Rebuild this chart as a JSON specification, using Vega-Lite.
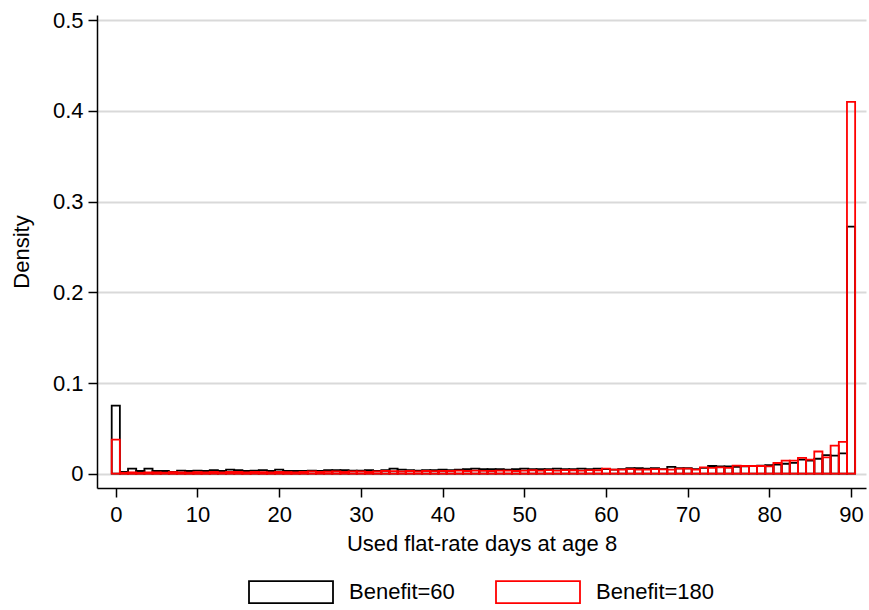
{
  "$schema": "https://vega.github.io/schema/vega-lite/v6.json",
  "description": "Histogram of used flat-rate days at age 8, Benefit=60 vs Benefit=180",
  "width": 769,
  "height": 473,
  "autosize": {"type": "none"},
  "padding": {"left": 97, "top": 15, "right": 3, "bottom": 122},
  "background": "white",
  "config": {
    "view": {"stroke": null},
    "font": "Liberation Sans",
    "axis": {
      "domainColor": "black",
      "domainWidth": 1.5,
      "tickColor": "black",
      "tickWidth": 1.5,
      "tickSize": 9,
      "labelFont": "Liberation Sans",
      "labelFontSize": 22,
      "labelColor": "black",
      "titleFont": "Liberation Sans",
      "titleFontSize": 22,
      "titleFontWeight": "normal",
      "titleColor": "black"
    }
  },
  "data": {
    "values": [
      {"days": 0, "b60": 0.075, "b180": 0.0375},
      {"days": 1, "b60": 0.002, "b180": 0.001},
      {"days": 2, "b60": 0.0055, "b180": 0.0015},
      {"days": 3, "b60": 0.003, "b180": 0.001},
      {"days": 4, "b60": 0.0055, "b180": 0.0015},
      {"days": 5, "b60": 0.003, "b180": 0.0015},
      {"days": 6, "b60": 0.003, "b180": 0.0012},
      {"days": 7, "b60": 0.002, "b180": 0.0018},
      {"days": 8, "b60": 0.0035, "b180": 0.0015},
      {"days": 9, "b60": 0.003, "b180": 0.0012},
      {"days": 10, "b60": 0.0035, "b180": 0.0018},
      {"days": 11, "b60": 0.003, "b180": 0.0015},
      {"days": 12, "b60": 0.004, "b180": 0.002},
      {"days": 13, "b60": 0.003, "b180": 0.0015},
      {"days": 14, "b60": 0.0045, "b180": 0.002},
      {"days": 15, "b60": 0.004, "b180": 0.002},
      {"days": 16, "b60": 0.003, "b180": 0.0015},
      {"days": 17, "b60": 0.0035, "b180": 0.002},
      {"days": 18, "b60": 0.004, "b180": 0.0018},
      {"days": 19, "b60": 0.003, "b180": 0.0015},
      {"days": 20, "b60": 0.0045, "b180": 0.002},
      {"days": 21, "b60": 0.003, "b180": 0.0018},
      {"days": 22, "b60": 0.003, "b180": 0.0015},
      {"days": 23, "b60": 0.003, "b180": 0.002},
      {"days": 24, "b60": 0.0035, "b180": 0.0025},
      {"days": 25, "b60": 0.003, "b180": 0.002},
      {"days": 26, "b60": 0.004, "b180": 0.0022},
      {"days": 27, "b60": 0.004, "b180": 0.0025},
      {"days": 28, "b60": 0.004, "b180": 0.002},
      {"days": 29, "b60": 0.0035, "b180": 0.0025},
      {"days": 30, "b60": 0.0035, "b180": 0.0025},
      {"days": 31, "b60": 0.004, "b180": 0.002},
      {"days": 32, "b60": 0.003, "b180": 0.0025},
      {"days": 33, "b60": 0.004, "b180": 0.003},
      {"days": 34, "b60": 0.0055, "b180": 0.0028},
      {"days": 35, "b60": 0.0045, "b180": 0.0025},
      {"days": 36, "b60": 0.004, "b180": 0.003},
      {"days": 37, "b60": 0.0035, "b180": 0.0025},
      {"days": 38, "b60": 0.004, "b180": 0.003},
      {"days": 39, "b60": 0.004, "b180": 0.0028},
      {"days": 40, "b60": 0.0045, "b180": 0.003},
      {"days": 41, "b60": 0.004, "b180": 0.003},
      {"days": 42, "b60": 0.0045, "b180": 0.0035},
      {"days": 43, "b60": 0.005, "b180": 0.003},
      {"days": 44, "b60": 0.0055, "b180": 0.0035},
      {"days": 45, "b60": 0.005, "b180": 0.0032},
      {"days": 46, "b60": 0.005, "b180": 0.003},
      {"days": 47, "b60": 0.005, "b180": 0.0035},
      {"days": 48, "b60": 0.0045, "b180": 0.0035},
      {"days": 49, "b60": 0.005, "b180": 0.003},
      {"days": 50, "b60": 0.0055, "b180": 0.0035},
      {"days": 51, "b60": 0.005, "b180": 0.0038},
      {"days": 52, "b60": 0.005, "b180": 0.0035},
      {"days": 53, "b60": 0.005, "b180": 0.004},
      {"days": 54, "b60": 0.0055, "b180": 0.0035},
      {"days": 55, "b60": 0.005, "b180": 0.004},
      {"days": 56, "b60": 0.005, "b180": 0.0038},
      {"days": 57, "b60": 0.0055, "b180": 0.0035},
      {"days": 58, "b60": 0.005, "b180": 0.004},
      {"days": 59, "b60": 0.0055, "b180": 0.0038},
      {"days": 60, "b60": 0.005, "b180": 0.0055},
      {"days": 61, "b60": 0.0045, "b180": 0.0045},
      {"days": 62, "b60": 0.005, "b180": 0.0045},
      {"days": 63, "b60": 0.006, "b180": 0.005},
      {"days": 64, "b60": 0.006, "b180": 0.0045},
      {"days": 65, "b60": 0.0055, "b180": 0.0045},
      {"days": 66, "b60": 0.006, "b180": 0.005},
      {"days": 67, "b60": 0.005, "b180": 0.0048},
      {"days": 68, "b60": 0.0075, "b180": 0.0045},
      {"days": 69, "b60": 0.006, "b180": 0.0055},
      {"days": 70, "b60": 0.006, "b180": 0.0055},
      {"days": 71, "b60": 0.005, "b180": 0.0045},
      {"days": 72, "b60": 0.0065, "b180": 0.007},
      {"days": 73, "b60": 0.0085, "b180": 0.0065},
      {"days": 74, "b60": 0.008, "b180": 0.007},
      {"days": 75, "b60": 0.008, "b180": 0.0065},
      {"days": 76, "b60": 0.0075, "b180": 0.009},
      {"days": 77, "b60": 0.008, "b180": 0.0085},
      {"days": 78, "b60": 0.0085, "b180": 0.0085},
      {"days": 79, "b60": 0.009, "b180": 0.0085},
      {"days": 80, "b60": 0.0095, "b180": 0.008},
      {"days": 81, "b60": 0.01, "b180": 0.0118},
      {"days": 82, "b60": 0.011, "b180": 0.0145},
      {"days": 83, "b60": 0.012, "b180": 0.0145},
      {"days": 84, "b60": 0.0155, "b180": 0.0175},
      {"days": 85, "b60": 0.0145, "b180": 0.0155},
      {"days": 86, "b60": 0.0165, "b180": 0.0245},
      {"days": 87, "b60": 0.0205, "b180": 0.018},
      {"days": 88, "b60": 0.02, "b180": 0.031},
      {"days": 89, "b60": 0.0225, "b180": 0.035},
      {"days": 90, "b60": 0.2725, "b180": 0.41}
    ]
  },
  "encoding": {
    "x": {
      "field": "days",
      "type": "quantitative",
      "title": "Used flat-rate days at age 8",
      "scale": {"domain": [-2.3, 91.83], "nice": false, "zero": false, "padding": 0},
      "axis": {
        "values": [0, 10, 20, 30, 40, 50, 60, 70, 80, 90],
        "grid": false,
        "labelPadding": 7,
        "titlePadding": 8
      }
    }
  },
  "layer": [
    {
      "mark": {"type": "bar", "size": 8.17, "fill": "transparent", "strokeWidth": 1.8},
      "encoding": {
        "y": {
          "field": "b60",
          "type": "quantitative",
          "title": "Density",
          "scale": {"domain": [-0.01576, 0.5058], "nice": false, "zero": false},
          "axis": {
            "values": [0, 0.1, 0.2, 0.3, 0.4, 0.5],
            "labelExpr": "datum.value == 0 ? '0' : format(datum.value, '.1f')",
            "grid": true,
            "gridColor": "#d9d9d9",
            "gridWidth": 1.8,
            "labelPadding": 5,
            "titlePadding": 19
          }
        },
        "stroke": {
          "datum": "Benefit=60",
          "type": "nominal",
          "scale": {"domain": ["Benefit=60", "Benefit=180"], "range": ["black", "red"]},
          "legend": {
            "title": null,
            "orient": "none",
            "direction": "horizontal",
            "legendX": 151,
            "legendY": 534,
            "symbolType": "M-1,-0.262H1V0.262H-1Z",
            "symbolSize": 7056,
            "symbolFillColor": "transparent",
            "symbolStrokeWidth": 1.8,
            "labelFont": "Liberation Sans",
            "labelFontSize": 22,
            "labelColor": "black",
            "labelOffset": 15,
            "columnPadding": 37,
            "padding": 0
          }
        }
      }
    },
    {
      "mark": {"type": "bar", "size": 8.17, "fill": "transparent", "strokeWidth": 1.8},
      "encoding": {
        "y": {"field": "b180", "type": "quantitative"},
        "stroke": {"datum": "Benefit=180", "type": "nominal"}
      }
    }
  ]
}
